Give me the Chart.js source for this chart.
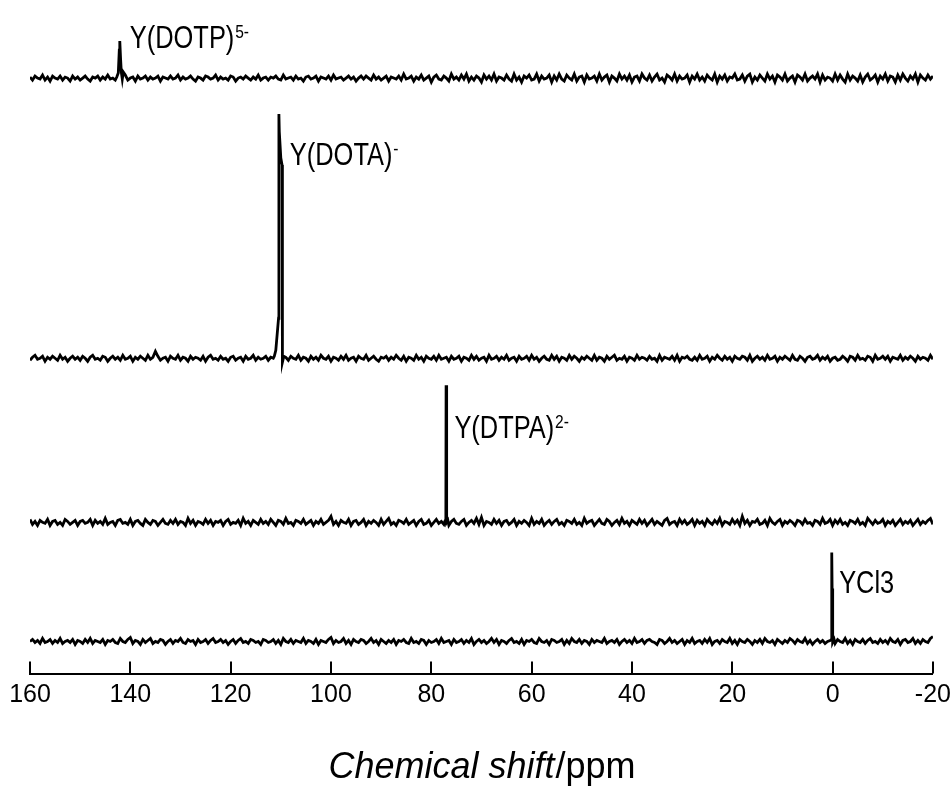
<!DOCTYPE html>
<html lang="en">
<head>
<meta charset="UTF-8">
<title>Y NMR spectra</title>
<script src="https://cdn.jsdelivr.net/npm/chart.js"></script>
<style>
  body { margin: 0; background: #fff; }
  canvas { display: block; }
</style>
</head>
<body>
<canvas id="nmrChart" width="951" height="788"></canvas>
<script>
// shift grid of the baseline noise: 160 ppm down to -20 ppm, 0.5 ppm apart
const shiftStart = 160;
const shiftStep = 0.5;
const tickValues = [160, 140, 120, 100, 80, 60, 40, 20, 0, -20];

// labels of the four spectra (top to bottom) and their charges
const spectrumNames = ['Y(DOTP)', 'Y(DOTA)', 'Y(DTPA)', 'YCl3'];
const spectrumCharges = ['5-', '-', '2-', ''];

// baseline noise (arbitrary units, ~1 unit per px)
const dotpNoise = [
  1,-2,2,0,-1,3,-2,1,-3,2,0,-1,2,-2,1,0,-3,2,-1,
  1,-2,0,2,-1,-3,1,0,2,-2,1,-1,3,-1,0,-2,1,2,-1,
  3,-2,0,1,-3,2,-1,0,2,-2,1,-1,0,2,-3,1,0,-1,2,
  -1,0,3,-2,1,-1,0,2,-1,-3,1,0,-2,2,1,-1,0,3,-2,
  1,-1,0,-2,2,1,-3,0,1,-1,2,0,-2,1,-1,3,-2,0,1,
  -2,1,0,2,-1,-2,3,-1,0,1,-2,2,-1,0,-3,1,2,-1,0,
  2,-3,1,0,-1,2,-2,3,-1,0,1,-2,0,2,-1,1,-3,0,2,
  -1,2,0,-2,3,-1,1,-2,0,2,-3,1,0,-1,2,-2,4,-1,0,
  2,-3,1,-1,3,-2,0,2,-4,1,3,-1,-2,2,0,-3,4,-1,1,
  -2,3,-1,4,-3,1,-2,2,0,-4,3,-1,2,-2,4,-3,1,0,-2,
  3,-1,-3,4,-2,1,-4,2,0,3,-2,-1,4,-3,2,-1,0,3,-4,
  2,-2,4,-1,-3,3,0,-2,4,-3,1,2,-4,3,-1,0,2,-3,4,
  -2,1,3,-4,2,0,-3,4,-1,2,-2,3,-4,1,2,-3,4,0,-2,
  3,-3,1,4,-2,0,-4,3,1,-2,4,-3,2,-1,0,3,-4,2,-1,
  4,-2,1,-3,3,0,-2,4,-4,2,-1,3,-3,1,0,4,-2,-1,3,
  -3,2,4,-4,1,-2,3,0,-3,4,-1,2,-4,3,1,-2,4,-3,0,
  2,-4,3,1,-2,4,-3,0,2,-1,4,-4,3,-2,1,0,-3,4,-2,
  3,-1,-4,4,-2,2,0,-3,3,-4,1,4,-2,0,3,-4,2,-1,4,
  -3,2,1,-4,3,-2,4,0,-3,2,-1,4,-4,3,0,-2,3,-1,2
];
const dotaNoise = [
  -2,1,3,-1,0,2,-3,1,-1,2,0,-2,3,-1,1,-3,0,2,-1,
  1,-2,2,0,-3,1,3,-1,0,-2,2,1,-3,0,2,-1,1,-2,3,
  -1,0,2,-3,1,-1,2,0,-2,3,-1,1,7,2,-2,0,1,-3,2,
  0,-1,3,-2,1,0,-3,2,-1,1,0,-2,2,-3,1,3,-1,0,-2,
  2,-1,0,-3,1,2,-2,0,1,-3,2,-1,0,3,-2,1,-1,0,2,
  -2,1,0,-1,2,3,-3,1,-2,2,0,-1,3,-2,1,0,-3,2,-1,
  1,-2,3,0,-1,2,-3,1,0,-2,2,-1,3,-2,0,1,-3,2,0,
  -1,3,-2,0,2,-1,-3,1,0,2,-2,1,-1,3,0,-2,2,-3,1,
  0,-2,3,-1,1,-3,2,0,-1,2,-2,3,-1,0,1,-3,2,-1,0,
  2,-3,1,0,-2,3,-1,2,-2,0,1,-3,3,-1,0,2,-2,1,-1,
  3,-2,0,1,-3,2,-1,0,2,-2,3,-1,1,-3,0,2,-1,-2,3,
  -1,2,-3,1,0,-2,3,-1,2,0,-3,1,-1,2,0,-2,3,-2,1,
  0,-3,2,-1,1,3,-2,0,-1,2,-3,1,0,-2,3,-1,1,0,-2,
  2,-1,0,-3,3,-2,1,0,-1,2,-2,3,-3,1,0,2,-1,-2,1,
  -2,3,-1,0,2,-3,1,-1,3,0,-2,2,-1,1,-3,2,0,-1,2,
  1,-2,3,-3,0,2,-1,1,-2,3,-1,0,2,-3,1,-1,2,0,-2,
  3,-1,-2,2,0,-3,1,2,-1,0,3,-2,1,-1,2,-3,0,1,-2,
  -1,2,0,-3,2,1,-2,3,-1,0,-2,2,1,-3,3,-1,0,2,-1,
  2,-3,1,0,-1,3,-2,1,-1,2,0,-3,2,-1,1,0,-2,3,-1
];
const dtpaNoise = [
  3,-2,1,-3,2,0,-1,3,-3,1,2,-2,0,-3,3,1,-2,0,2,
  -3,1,2,-1,0,3,-3,2,-1,1,-2,4,-2,0,1,-3,2,3,-1,
  0,-2,3,-3,1,2,-1,-3,3,0,-2,2,1,-3,0,3,-1,-2,2,
  -1,3,-2,1,0,-3,4,-1,2,-3,1,0,-2,3,-1,2,-3,1,0,
  2,-3,1,3,-2,0,-1,2,-3,4,-1,1,-3,2,0,-2,3,-1,1,
  -2,3,0,-3,2,1,-2,4,-1,0,-3,2,1,-1,3,-2,0,2,-3,
  1,-1,3,-2,0,2,6,-2,1,-3,2,0,-1,3,-3,1,2,-2,0,
  3,-3,1,-1,2,0,-3,3,-2,1,4,-2,0,-3,2,1,-1,3,-2,
  0,2,-3,1,3,-2,-1,2,-3,0,3,-1,1,-2,2,-3,1,3,-1,
  -2,1,3,-3,0,2,-1,4,-2,5,-3,1,0,-2,3,-1,2,-3,1,
  2,-2,0,3,-3,1,-1,2,0,-3,4,-2,1,-1,3,-3,0,2,-2,
  1,3,-2,0,-3,2,1,-1,3,-2,0,-3,4,-1,1,2,-3,0,3,
  -1,-2,3,1,-3,0,2,-2,4,-1,1,-3,2,0,-2,3,-1,2,-3,
  0,3,-2,1,-1,-3,2,4,-2,0,1,-3,3,-1,2,-2,0,3,-3,
  2,-1,1,-3,3,0,-2,2,-1,4,-3,1,0,-2,3,-1,2,-3,6,
  -1,2,-3,1,0,3,-2,-1,2,-3,4,0,-2,1,3,-3,1,-1,2,
  0,-3,2,1,-2,3,-1,0,-3,2,1,-2,4,-1,0,3,-3,2,-1,
  3,-2,0,-3,2,1,-1,3,-2,0,-3,4,1,-2,2,-1,0,3,-3,
  1,-1,2,-3,0,3,-2,1,-1,2,-3,0,3,-2,1,-1,2,4,-2
];
const yclNoise = [
  0,2,-1,1,-2,3,-1,0,2,-2,1,-1,3,-2,0,1,-1,2,-3,
  1,0,-2,2,-1,3,-2,1,0,-1,2,-3,1,0,2,-1,-2,3,0,
  -1,2,4,-2,1,0,-3,2,-1,1,3,-2,0,-1,2,1,-3,0,2,
  -2,1,0,3,-1,-2,2,0,1,-3,2,-1,0,2,-2,1,3,-1,0,
  2,-1,1,-3,0,2,-2,1,3,-1,0,-2,2,1,-1,0,-3,2,1,
  -1,0,2,-2,1,-3,3,0,-1,2,-2,1,0,-1,3,-2,1,0,-2,
  2,-3,1,0,-1,2,4,-2,1,-1,0,3,-2,1,-3,2,0,-1,2,
  1,-2,0,3,-1,1,-3,2,0,-2,1,-1,2,-3,1,0,2,-1,-2,
  3,-1,0,-2,2,1,-3,1,-1,0,2,-2,3,-1,0,1,-3,2,-1,
  0,2,-2,1,-1,3,-3,0,2,-1,1,-2,0,3,-1,2,-3,1,0,
  -2,1,3,-1,0,-2,2,-3,1,0,2,-1,-2,3,0,-1,1,-3,2,
  1,-1,0,2,-3,1,-2,3,0,-1,2,-2,1,0,-3,2,-1,1,0,
  -1,3,-2,0,1,-1,2,-3,0,2,-1,1,-2,3,-1,0,2,-2,1,
  2,0,-1,-3,2,1,-2,0,3,-1,1,-2,0,2,-3,1,-1,3,-2,
  0,1,-2,2,-1,3,-3,0,1,-2,2,0,-1,3,-2,1,-3,2,0,
  -1,2,0,-3,1,-1,2,-2,3,0,-1,1,-3,2,0,-2,1,-1,3,
  1,-2,2,0,-1,3,-2,1,-3,0,2,-1,1,-2,0,3,-1,-2,2,
  0,-1,3,-2,1,-3,2,0,-1,2,-2,1,3,-1,0,-2,2,-1,1,
  -2,3,0,-1,2,-3,1,2,-1,0,3,-2,1,-2,2,0,-1,3,5
];

// the resonance lines: shift (ppm) and intensity
const dotpPeakShift = [142.7, 142.4, 142.2, 142.1, 141.95, 141.8, 141.6, 141.4];
const dotpPeakVal   = [1, 5, 28, 37, 20, 6, -1, 6];
const dotaPeakShift = [111.3, 111.0, 110.45, 110.38, 110.3, 110.0, 109.75, 109.68, 109.4];
const dotaPeakVal   = [2, 8, 40, 244, 226, 200, 193, -4, 2];
const dtpaPeakShift = [77.3, 77.1, 77.05, 76.98, 76.9, 76.7];
const dtpaPeakVal   = [1, 3, 137, 31, 0, 2];
const yclPeakShift  = [0.5, 0.25, 0.17, 0.1, 0.02, -0.05, -0.3];
const yclPeakVal    = [1, 2, 89, 53, 50, -1, 2];

// layout: vertical offset of each trace and where its label sits (ppm, y)
const traceOffsets = [595, 315, 151, 32];
const labelAnchors = [[140.1, 625], [108.2, 508], [75.4, 235], [-1.3, 80]];

function buildTrace(noise, peakShift, peakVal, offset) {
    const lo = Math.min(...peakShift);
    const hi = Math.max(...peakShift);
    const pts = [];
    noise.forEach(function(v, i) {
        const x = shiftStart - i * shiftStep;
        if (x < lo || x > hi) pts.push({ x: x, y: v + offset });
    });
    peakShift.forEach(function(x, i) {
        pts.push({ x: x, y: peakVal[i] + offset });
    });
    pts.sort(function(a, b) { return b.x - a.x; });
    return pts;
}

const traces = [
    buildTrace(dotpNoise, dotpPeakShift, dotpPeakVal, traceOffsets[0]),
    buildTrace(dotaNoise, dotaPeakShift, dotaPeakVal, traceOffsets[1]),
    buildTrace(dtpaNoise, dtpaPeakShift, dtpaPeakVal, traceOffsets[2]),
    buildTrace(yclNoise, yclPeakShift, yclPeakVal, traceOffsets[3])
];

// tick marks pointing up, peak labels and the axis title
const decorations = {
    id: 'decorations',
    afterDraw: function(chart) {
        const ctx = chart.ctx;
        const xs = chart.scales.x;
        const ys = chart.scales.y;
        const bottom = chart.chartArea.bottom;
        ctx.save();
        ctx.strokeStyle = '#000';
        ctx.lineWidth = 2;
        tickValues.forEach(function(v) {
            const px = Math.round(xs.getPixelForValue(v));
            ctx.beginPath();
            ctx.moveTo(px, bottom);
            ctx.lineTo(px, bottom - 12);
            ctx.stroke();
        });

        ctx.fillStyle = '#000';
        ctx.textBaseline = 'alphabetic';
        spectrumNames.forEach(function(name, i) {
            const px = xs.getPixelForValue(labelAnchors[i][0]);
            const py = ys.getPixelForValue(labelAnchors[i][1]);
            ctx.save();
            ctx.translate(px, py);
            ctx.scale(0.82, 1);
            ctx.font = '31px "Liberation Sans", Arial, sans-serif';
            ctx.fillText(name, 0, 0);
            const w = ctx.measureText(name).width;
            if (spectrumCharges[i]) {
                ctx.font = '19px "Liberation Sans", Arial, sans-serif';
                ctx.fillText(spectrumCharges[i], w + 1, -10);
            }
            ctx.restore();
        });

        // axis title: italic quantity, upright unit
        const part1 = 'Chemical shift';
        const part2 = '/ppm';
        const fItal = 'italic 36px "Liberation Sans", Arial, sans-serif';
        const fNorm = '36px "Liberation Sans", Arial, sans-serif';
        ctx.font = fItal;
        const w1 = ctx.measureText(part1).width;
        ctx.font = fNorm;
        const w2 = ctx.measureText(part2).width;
        const cx = (chart.chartArea.left + chart.chartArea.right) / 2;
        const x0 = cx - (w1 + w2) / 2;
        ctx.font = fItal;
        ctx.fillText(part1, x0, 778);
        ctx.font = fNorm;
        ctx.fillText(part2, x0 + w1 + 1, 778);
        ctx.restore();
    }
};

const ctx = document.getElementById('nmrChart').getContext('2d');
const nmrChart = new Chart(ctx, {
    type: 'line',
    data: {
        datasets: traces.map(function(t, i) {
            return {
                label: spectrumNames[i],
                data: t,
                borderColor: '#000',
                borderWidth: 2.8,
                pointRadius: 0,
                tension: 0,
                fill: false
            };
        })
    },
    options: {
        responsive: false,
        animation: false,
        layout: { padding: { left: 30, right: 17, top: 0, bottom: 72 } },
        plugins: {
            legend: { display: false },
            tooltip: { enabled: false },
            title: { display: false }
        },
        scales: {
            x: {
                type: 'linear',
                reverse: true,
                min: -20,
                max: 160,
                afterBuildTicks: function(scale) {
                    scale.ticks = tickValues.map(function(v) { return { value: v }; });
                },
                grid: { display: false, drawTicks: false },
                border: { display: true, color: '#000', width: 2 },
                ticks: {
                    color: '#000',
                    padding: 0,
                    maxRotation: 0,
                    autoSkip: false,
                    font: { family: '"Liberation Sans", Arial, sans-serif', size: 25, lineHeight: 1.7 }
                }
            },
            y: {
                type: 'linear',
                display: false,
                min: 0,
                max: 673
            }
        }
    },
    plugins: [decorations]
});
</script>
</body>
</html>
